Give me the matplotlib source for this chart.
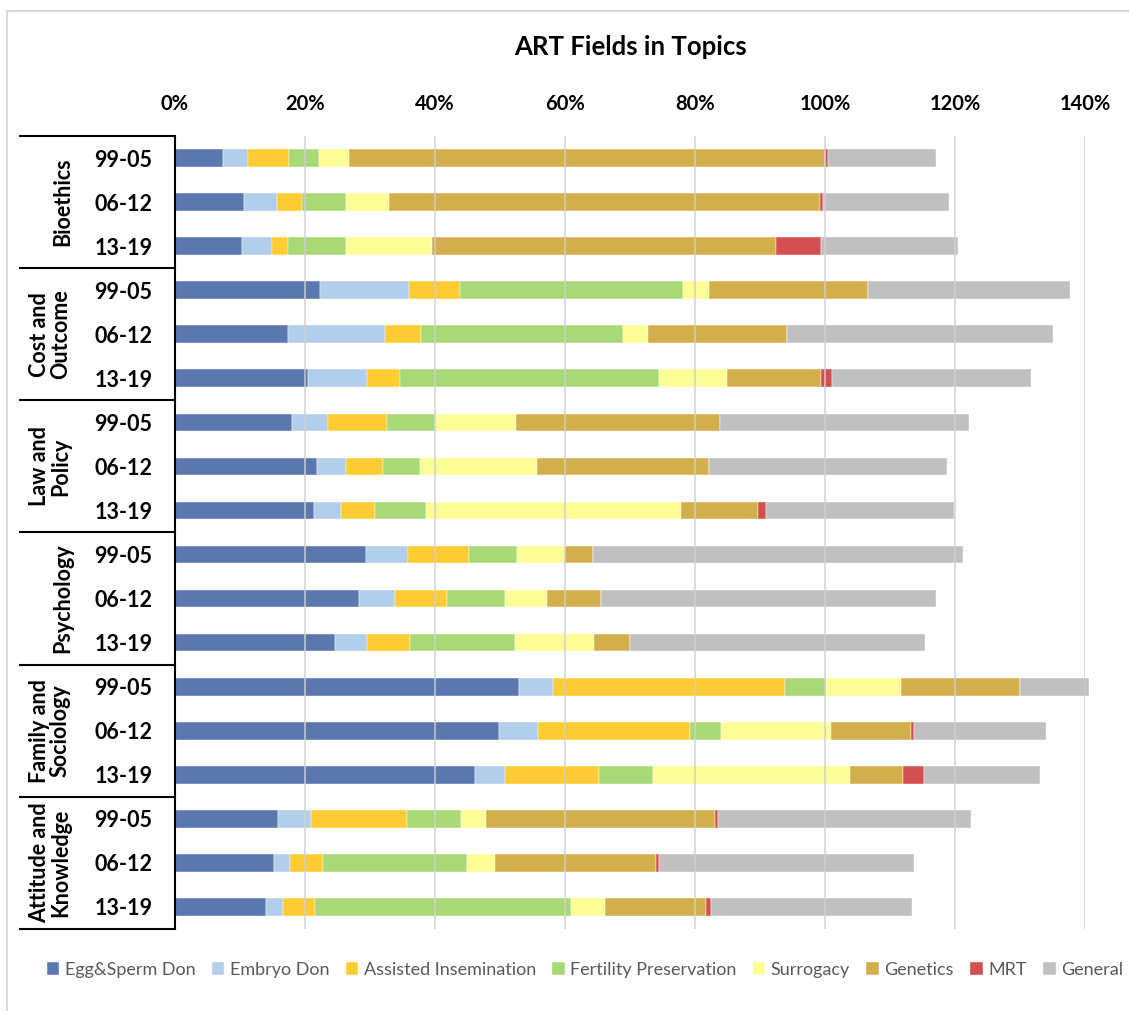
import matplotlib.pyplot as plt
import numpy as np
from matplotlib.lines import Line2D
from matplotlib.transforms import blended_transform_factory

plt.rcParams['font.family'] = ['Lato', 'DejaVu Sans']

# donnees (en %)
groupes = ["Bioethics", "Cost and\nOutcome", "Law and\nPolicy", "Psychology",
           "Family and\nSociology", "Attitude and\nKnowledge"]
periodes = ["99-05", "06-12", "13-19"]

series = ["Egg&Sperm Don", "Embryo Don", "Assisted Insemination",
          "Fertility Preservation", "Surrogacy", "Genetics", "MRT", "General"]

egg = [7.4, 10.7, 10.4, 22.3, 17.4, 20.5, 18.1, 21.9, 21.4, 29.4, 28.4, 24.6, 52.9, 49.9, 46.1, 15.9, 15.3, 14.1]
embryo = [3.9, 5.0, 4.5, 13.8, 15.0, 9.1, 5.4, 4.5, 4.1, 6.4, 5.5, 5.0, 5.3, 5.9, 4.7, 5.1, 2.4, 2.6]
insem = [6.3, 3.9, 2.5, 7.7, 5.5, 5.0, 9.2, 5.7, 5.3, 9.5, 7.9, 6.6, 35.6, 23.5, 14.4, 14.7, 5.1, 4.8]
fert = [4.6, 6.7, 8.9, 34.4, 31.0, 39.9, 7.4, 5.6, 7.9, 7.3, 9.0, 16.1, 6.3, 4.7, 8.4, 8.3, 22.1, 39.4]
surr = [4.6, 6.7, 13.2, 3.9, 3.8, 10.4, 12.4, 18.0, 39.1, 7.4, 6.5, 12.2, 11.6, 16.9, 30.2, 3.9, 4.4, 5.3]
genet = [73.2, 66.2, 52.9, 24.5, 21.5, 14.4, 31.3, 26.5, 11.9, 4.3, 8.3, 5.5, 18.3, 12.3, 8.1, 35.1, 24.7, 15.5]
mrt = [0.4, 0.4, 6.9, 0, 0, 1.8, 0, 0, 1.2, 0, 0, 0, 0, 0.5, 3.3, 0.5, 0.4, 0.7]
general = [16.7, 19.4, 21.1, 31.0, 40.9, 30.6, 38.3, 36.5, 28.9, 56.9, 51.5, 45.4, 10.5, 20.3, 17.8, 39.0, 39.3, 30.9]

couleurs = ["#5A78AE", "#B1CFEA", "#FFCC33", "#A9D976", "#FEFE96", "#D3AF4C", "#D44F4F", "#C0C0C0"]

valeurs = [egg, embryo, insem, fert, surr, genet, mrt, general]

fig = plt.figure(figsize=(11.29, 10.11), dpi=100)
ax = fig.add_axes([0.1547, 0.0811, 0.8066, 0.7844])

y = np.arange(len(egg))
gauche = np.zeros(len(egg))
for nom, v, c in zip(series, valeurs, couleurs):
    ax.barh(y, v, left=gauche, height=0.4, color=c, label=nom,
            edgecolor="white", linewidth=0.3, zorder=2, clip_on=False)
    gauche += np.array(v)

ax.set_xlim(0, 140)
ax.set_ylim(len(egg) - 0.5, -0.5)

# axe du haut
ax.xaxis.tick_top()
ax.set_xticks(np.arange(0, 141, 20))
ax.set_xticklabels([str(t) + "%" for t in range(0, 141, 20)], fontsize=14.5, fontweight="bold")
ax.tick_params(axis="x", length=0, pad=16)
for t in np.arange(20, 141, 20):
    ax.axvline(t, color="#D0D0D0", linewidth=1.3, alpha=0.8, zorder=3)

ax.set_yticks(y)
ax.set_yticklabels(periodes * len(groupes), fontsize=15.5, fontweight="bold")
ax.tick_params(axis="y", length=0, pad=16)

for s in ["top", "right", "bottom"]:
    ax.spines[s].set_visible(False)
ax.spines["left"].set_linewidth(1.5)
ax.spines["left"].set_color("black")

# etiquettes des groupes et separateurs
trans = blended_transform_factory(ax.transAxes, ax.transData)
x0 = (20 - 174.7) / 910.6
for i, g in enumerate(groupes):
    xg = (63 - 174.7) / 910.6 if "\n" not in g else (50 - 174.7) / 910.6
    ax.text(xg, 3 * i + 1, g, transform=trans, rotation=90, ha="center", va="center",
            fontsize=15.5, fontweight="bold", multialignment="center", linespacing=1.0)
for k in range(len(groupes) + 1):
    ax.add_line(Line2D([x0, 0], [3 * k - 0.5, 3 * k - 0.5], transform=trans,
                       color="black", linewidth=1.5, clip_on=False))

fig.text(631 / 1129, 1 - 47 / 1011, "ART Fields in Topics", ha="center", va="center",
         fontsize=18.5, fontweight="bold")

leg = fig.legend(loc="center", bbox_to_anchor=(585 / 1129, 1 - 970 / 1011), ncol=8,
                 frameon=False, fontsize=13, handlelength=0.7, handleheight=0.7,
                 handletextpad=0.3, columnspacing=0.9)
for t in leg.get_texts():
    t.set_color("#595959")

# cadre
fig.add_artist(Line2D([7 / 1129, 1], [1 - 11 / 1011, 1 - 11 / 1011], color="#D9D9D9", linewidth=1.5))
fig.add_artist(Line2D([7 / 1129, 7 / 1129], [0, 1 - 11 / 1011], color="#D9D9D9", linewidth=1.5))

plt.savefig("out.png", dpi=100)
